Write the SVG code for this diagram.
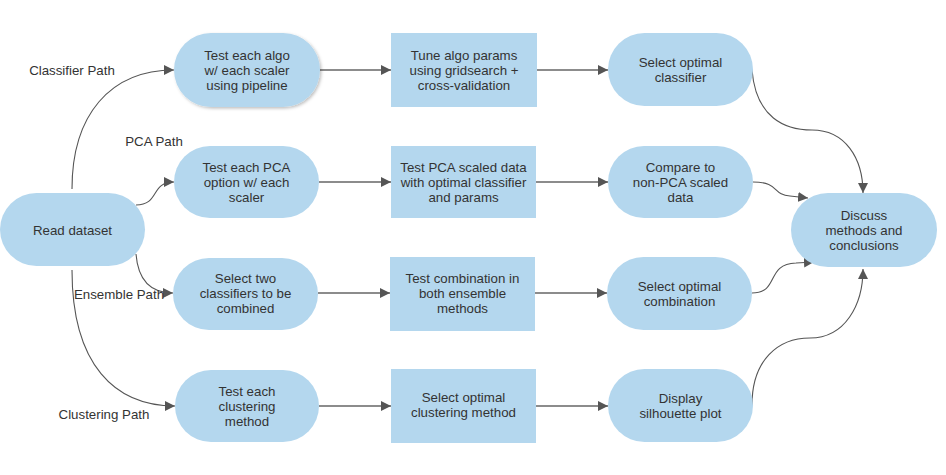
<svg xmlns="http://www.w3.org/2000/svg" width="946" height="475" viewBox="0 0 946 475">
<defs>
<style>
.n{fill:#b4d7ee;stroke:none}
.t{font-family:"Liberation Sans",Arial,sans-serif;font-size:13.3px;fill:#333;text-anchor:middle}
.lb{font-family:"Liberation Sans",Arial,sans-serif;font-size:13.3px;fill:#333;text-anchor:middle}
.s{fill:none;stroke:#8c8c8c;stroke-width:2}
.c{fill:none;stroke:#555;stroke-width:1.1}
</style>
<marker id="ah" viewBox="0 0 10 10" refX="10" refY="5" markerWidth="10" markerHeight="10" markerUnits="userSpaceOnUse" orient="auto">
<path d="M0,0 L10,5 L0,10 Z" fill="#555"/>
</marker>
<filter id="sh" x="-10%" y="-10%" width="125%" height="130%">
<feDropShadow dx="1.5" dy="1.5" stdDeviation="1.5" flood-color="#000" flood-opacity="0.25"/>
</filter>
</defs>
<g id="connectors">
<path class="s" d="M320,70 L391,70" marker-end="url(#ah)"/>
<path class="s" d="M537,70 L608,70" marker-end="url(#ah)"/>
<path class="s" d="M319,182 L391,182" marker-end="url(#ah)"/>
<path class="s" d="M536,182 L608,182" marker-end="url(#ah)"/>
<path class="s" d="M318,293 L390,293" marker-end="url(#ah)"/>
<path class="s" d="M535,293 L607,293" marker-end="url(#ah)"/>
<path class="s" d="M319,406 L391,406" marker-end="url(#ah)"/>
<path class="s" d="M536,406 L608,406" marker-end="url(#ah)"/>
<path class="c" d="M72,189 C72,115 110,70 174,70" marker-end="url(#ah)"/>
<path class="c" d="M136,205 C160,205 150,182 174,182" marker-end="url(#ah)"/>
<path class="c" d="M136,254 C138,280 150,293 173,293" marker-end="url(#ah)"/>
<path class="c" d="M72,270 C72,365 115,406 175,406" marker-end="url(#ah)"/>
<path class="c" d="M752,70 C756,118 785,130 812,130 C845,130 863,158 863,193" marker-end="url(#ah)"/>
<path class="c" d="M753,182 C780,182 772,195 790,196 L808,198" marker-end="url(#ah)"/>
<path class="c" d="M752,293 C780,293 765,264 796,263 L814,262" marker-end="url(#ah)"/>
<path class="c" d="M752,405 C752,360 778,338 810,338 C845,338 863,305 863,269" marker-end="url(#ah)"/>
<text class="lb" x="72" y="75">Classifier Path</text>
<text class="lb" x="154" y="146">PCA Path</text>
<text class="lb" x="119" y="299">Ensemble Path</text>
<text class="lb" x="104" y="419">Clustering Path</text>
</g>
<g id="read"><rect class="n" x="0" y="193" width="145" height="73" rx="36.5"/><text class="t" x="72.5" y="234.5">Read dataset</text></g>
<g id="algo"><rect class="n" x="174" y="33" width="146" height="74" rx="37" filter="url(#sh)"/><text class="t" x="247" y="59.5">Test each algo</text><text class="t" x="247" y="74.5">w/ each scaler</text><text class="t" x="247" y="89.5">using pipeline</text></g>
<g id="pca"><rect class="n" x="174" y="146" width="145" height="72" rx="36"/><text class="t" x="246.5" y="171.5">Test each PCA</text><text class="t" x="246.5" y="186.5">option w/ each</text><text class="t" x="246.5" y="201.5">scaler</text></g>
<g id="ens"><rect class="n" x="173" y="258" width="145" height="72" rx="36"/><text class="t" x="245.5" y="282.5">Select two</text><text class="t" x="245.5" y="297.5">classifiers to be</text><text class="t" x="245.5" y="312.5">combined</text></g>
<g id="clus"><rect class="n" x="175" y="370" width="144" height="72" rx="36"/><text class="t" x="247" y="395.5">Test each</text><text class="t" x="247" y="410.5">clustering</text><text class="t" x="247" y="425.5">method</text></g>
<g id="tune"><rect class="n" x="391" y="33" width="146" height="74"/><text class="t" x="464" y="59.5">Tune algo params</text><text class="t" x="464" y="74.5">using gridsearch +</text><text class="t" x="464" y="89.5">cross-validation</text></g>
<g id="pcatest"><rect class="n" x="391" y="146" width="145" height="72"/><text class="t" x="463.5" y="171.5">Test PCA scaled data</text><text class="t" x="463.5" y="186.5">with optimal classifier</text><text class="t" x="463.5" y="201.5">and params</text></g>
<g id="combo"><rect class="n" x="390" y="257" width="145" height="74"/><text class="t" x="462.5" y="282.5">Test combination in</text><text class="t" x="462.5" y="297.5">both ensemble</text><text class="t" x="462.5" y="312.5">methods</text></g>
<g id="clusel"><rect class="n" x="391" y="369" width="145" height="74"/><text class="t" x="463.5" y="402">Select optimal</text><text class="t" x="463.5" y="417">clustering method</text></g>
<g id="selcls"><rect class="n" x="608" y="33" width="145" height="73" rx="36.5"/><text class="t" x="680.5" y="67">Select optimal</text><text class="t" x="680.5" y="82">classifier</text></g>
<g id="compare"><rect class="n" x="608" y="146" width="145" height="72" rx="36"/><text class="t" x="680.5" y="171.5">Compare to</text><text class="t" x="680.5" y="186.5">non-PCA scaled</text><text class="t" x="680.5" y="201.5">data</text></g>
<g id="selcomb"><rect class="n" x="607" y="257" width="145" height="73" rx="36.5"/><text class="t" x="679.5" y="291">Select optimal</text><text class="t" x="679.5" y="306">combination</text></g>
<g id="display"><rect class="n" x="608" y="369" width="145" height="73" rx="36.5"/><text class="t" x="680.5" y="403">Display</text><text class="t" x="680.5" y="418">silhouette plot</text></g>
<g id="discuss"><rect class="n" x="791" y="193" width="146" height="74" rx="37"/><text class="t" x="864" y="219.5">Discuss</text><text class="t" x="864" y="234.5">methods and</text><text class="t" x="864" y="249.5">conclusions</text></g>
</svg>
